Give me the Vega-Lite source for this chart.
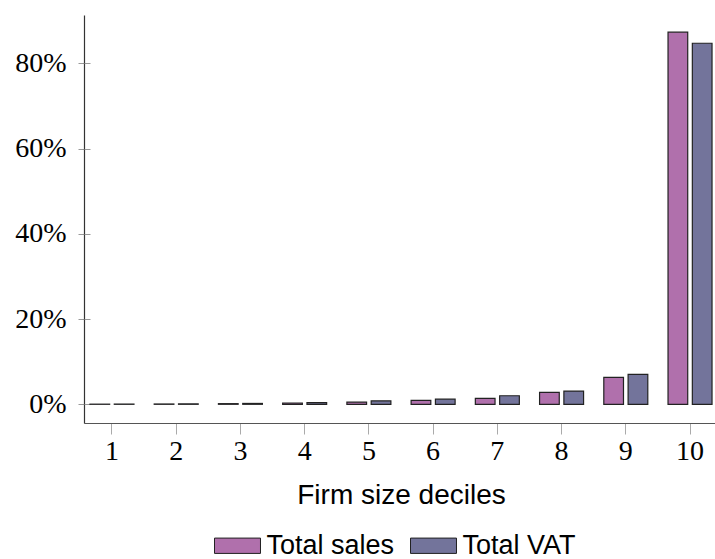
{
  "$schema": "https://vega.github.io/schema/vega-lite/v6.json",
  "autosize": {"type": "none"},
  "padding": {"left": 84, "top": 15, "right": 0, "bottom": 136},
  "width": 634,
  "height": 408,
  "config": {"view": {"stroke": null}},
  "data": {"values": [
    {"decile": "1", "series": "Total sales", "share": 0.03},
    {"decile": "1", "series": "Total VAT", "share": 0.05},
    {"decile": "2", "series": "Total sales", "share": 0.07},
    {"decile": "2", "series": "Total VAT", "share": 0.1},
    {"decile": "3", "series": "Total sales", "share": 0.15},
    {"decile": "3", "series": "Total VAT", "share": 0.2},
    {"decile": "4", "series": "Total sales", "share": 0.3},
    {"decile": "4", "series": "Total VAT", "share": 0.4},
    {"decile": "5", "series": "Total sales", "share": 0.5},
    {"decile": "5", "series": "Total VAT", "share": 0.8},
    {"decile": "6", "series": "Total sales", "share": 0.9},
    {"decile": "6", "series": "Total VAT", "share": 1.2},
    {"decile": "7", "series": "Total sales", "share": 1.4},
    {"decile": "7", "series": "Total VAT", "share": 2.0},
    {"decile": "8", "series": "Total sales", "share": 2.8},
    {"decile": "8", "series": "Total VAT", "share": 3.1},
    {"decile": "9", "series": "Total sales", "share": 6.3},
    {"decile": "9", "series": "Total VAT", "share": 7.0},
    {"decile": "10", "series": "Total sales", "share": 87.3},
    {"decile": "10", "series": "Total VAT", "share": 84.7}
  ]},
  "layer": [
    {
      "mark": {"type": "bar", "stroke": "#222222", "strokeWidth": 1.2},
      "encoding": {
        "x": {
          "field": "decile", "type": "ordinal",
          "sort": ["1","2","3","4","5","6","7","8","9","10"],
          "scale": {"paddingInner": 0.315, "paddingOuter": 0.093},
          "axis": {
            "title": "Firm size deciles",
            "labelAngle": 0,
            "labelFont": "Liberation Serif", "labelFontSize": 28, "labelColor": "#000000",
            "labelPadding": 3,
            "tickSize": 11, "tickColor": "#aaaaaa", "tickWidth": 1,
            "domainColor": "#555555", "domainWidth": 1.2,
            "titleFont": "Liberation Sans", "titleFontSize": 28, "titleFontWeight": "normal",
            "titleColor": "#000000", "titleBaseline": "alphabetic", "titleY": 80
          }
        },
        "xOffset": {
          "field": "series", "type": "nominal",
          "sort": ["Total sales", "Total VAT"],
          "scale": {"paddingInner": 0.19, "paddingOuter": 0}
        },
        "y": {
          "field": "share", "type": "quantitative",
          "scale": {"domain": [-4.39, 91.33], "nice": false, "zero": false},
          "axis": {
            "title": null,
            "values": [0, 20, 40, 60, 80],
            "labelExpr": "datum.value + '%'",
            "labelFont": "Liberation Serif", "labelFontSize": 28, "labelColor": "#000000",
            "labelPadding": 12,
            "tickSize": 6, "tickColor": "#999999",
            "domainColor": "#333333", "domainWidth": 1.2,
            "grid": false
          }
        },
        "y2": {"datum": 0},
        "color": {
          "field": "series", "type": "nominal",
          "scale": {"domain": ["Total sales", "Total VAT"], "range": ["#B070AC", "#73749B"]},
          "legend": {
            "title": null,
            "orient": "none",
            "direction": "horizontal",
            "legendX": 140,
            "legendY": 517,
            "symbolType": "M-3,-1H3V1H-3Z",
            "symbolSize": 235,
            "symbolStrokeColor": "#222222",
            "symbolStrokeWidth": 1,
            "symbolOpacity": 1,
            "labelFont": "Liberation Sans",
            "labelFontSize": 27,
            "labelColor": "#000000",
            "labelOffset": 15.5,
            "columnPadding": 13
          }
        }
      }
    },
    {
      "mark": {"type": "bar", "opacity": 0},
      "encoding": {
        "x": {"field": "decile", "type": "ordinal", "sort": ["1","2","3","4","5","6","7","8","9","10"]},
        "y": {
          "field": "share", "type": "quantitative",
          "axis": {
            "orient": "left",
            "title": null,
            "values": [0, 20, 40, 60, 80],
            "labels": false,
            "domain": false,
            "tickSize": -6, "tickColor": "#999999",
            "grid": false
          }
        }
      }
    }
  ],
  "resolve": {"axis": {"y": "independent"}}
}
